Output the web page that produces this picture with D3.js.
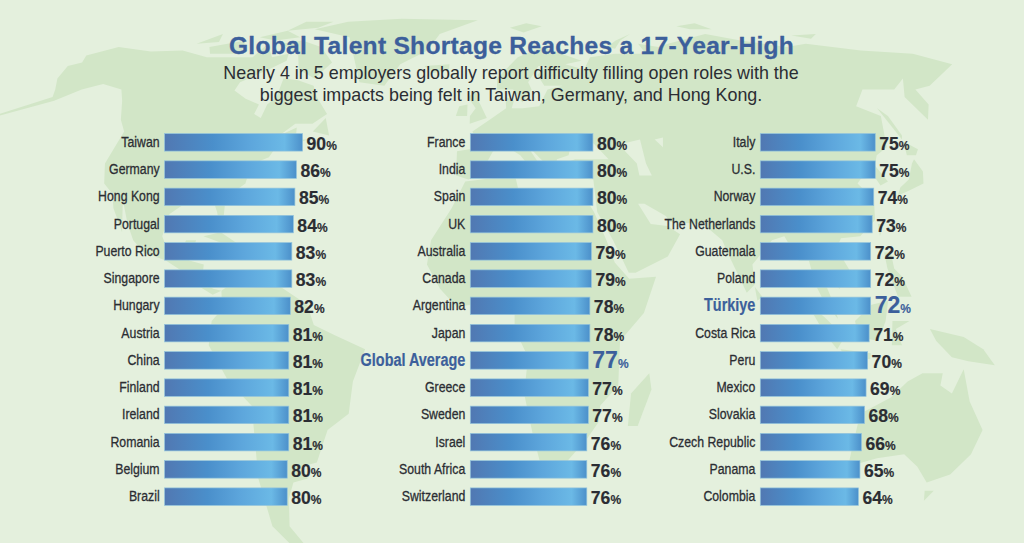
<!DOCTYPE html>
<html>
<head>
<meta charset="utf-8">
<script src="https://cdn.jsdelivr.net/npm/d3@7"></script>
<style>
  html, body { margin: 0; padding: 0; background: #e4f0dd; }
  svg { display: block; }
  .title { font: bold 24.6px "Liberation Sans", sans-serif; fill: #3c5f9b; stroke: #3c5f9b; stroke-width: .3px; letter-spacing: .27px; text-anchor: middle; }
  .sub { font: 17.9px "Liberation Sans", sans-serif; fill: #2b2d33; text-anchor: middle; }
  .tick text { font: 15px "Liberation Sans", sans-serif; fill: #2b2d33; stroke: #2b2d33; stroke-width: .3px; }
  .tick.hl text { font: bold 17.6px "Liberation Sans", sans-serif; fill: #3c5f9b; stroke: #3c5f9b; stroke-width: .2px; }
  .val { font: bold 17.6px "Liberation Sans", sans-serif; fill: #2b2d33; stroke: #2b2d33; stroke-width: .15px; }
  .val tspan { font-size: 12px; }
  .val.hl { font-size: 23px; fill: #3c5f9b; stroke: #3c5f9b; }
  .land { fill: #d2e6c7; }
  .water { fill: #e4f0dd; }
</style>
</head>
<body>
<svg width="1024" height="543"></svg>
<script>
var categories1 = ['Taiwan', 'Germany', 'Hong Kong', 'Portugal', 'Puerto Rico', 'Singapore', 'Hungary', 'Austria', 'China', 'Finland', 'Ireland', 'Romania', 'Belgium', 'Brazil'];
var values1 = [90, 86, 85, 84, 83, 83, 82, 81, 81, 81, 81, 81, 80, 80];

var categories2 = ['France', 'India', 'Spain', 'UK', 'Australia', 'Canada', 'Argentina', 'Japan', 'Global Average', 'Greece', 'Sweden', 'Israel', 'South Africa', 'Switzerland'];
var values2 = [80, 80, 80, 80, 79, 79, 78, 78, 77, 77, 77, 76, 76, 76];

var categories3 = ['Italy', 'U.S.', 'Norway', 'The Netherlands', 'Guatemala', 'Poland', 'Türkiye', 'Costa Rica', 'Peru', 'Mexico', 'Slovakia', 'Czech Republic', 'Panama', 'Colombia'];
var values3 = [75, 75, 74, 73, 72, 72, 72, 71, 70, 69, 68, 66, 65, 64];

var highlighted = ['Global Average', 'Türkiye'];

var titleText = 'Global Talent Shortage Reaches a 17-Year-High';
var subtitleLines = [
  'Nearly 4 in 5 employers globally report difficulty filling open roles with the',
  'biggest impacts being felt in Taiwan, Germany, and Hong Kong.'
];

// rough coastlines for the backdrop, lon/lat
var land = [
  // north america
  [[-168,65.5],[-164,66.5],[-166,68.5],[-157,71],[-141,69.7],[-128,70],[-115,68],[-108,68],[-96,68],[-94,72],[-88,68],[-82,69],[-81,67],[-87,64],[-94,61],[-94,58.7],[-88,56.5],[-82,55],[-82,52.5],[-79,51.5],[-79,55],[-77,57],[-78,62],[-72,61.5],[-65,60],[-62,57],[-56,52.5],[-60,50],[-66,50],[-70,47],[-65,49],[-64,46],[-60,46],[-66,44],[-70,43.5],[-71,41.5],[-74,40.5],[-76,37],[-76,35],[-81,31.5],[-80,26],[-81,25],[-82.5,28],[-84,30],[-89,30],[-94,29.5],[-97,27.5],[-97.5,22],[-95,18.5],[-91,18.5],[-90,21],[-87,21],[-88,16],[-83.5,15],[-83.5,11],[-80,9],[-77.5,8.5],[-80,7.5],[-85,10],[-90,13.5],[-95,16],[-102,18],[-106,21],[-109,25],[-113,31],[-110,23],[-115,29],[-117,32.5],[-121,35],[-124,40],[-124,48],[-128,51],[-133,56],[-137,59],[-146,60.5],[-152,59],[-158,56],[-180,50],[-160,57],[-162,59],[-166,62]],
  // greenland + arctic islands
  [[-78,76.5],[-65,79],[-40,80],[-3,79.5],[-20,75],[-24,70],[-34,66],[-38,60],[-48,61],[-54,68],[-60,74]],
  [[-80,73],[-70,71],[-62,66.5],[-66,62],[-74,64.5],[-78,69],[-88,72]],
  [[-118,71],[-105,73],[-102,69],[-115,69]],
  [[-90,76],[-85,79],[-72,79],[-77,77]],
  [[-125,72],[-118,75],[-116,72.5]],
  [[-100,74],[-90,76],[-82,74],[-92,73]],
  [[-59,48],[-53,47],[-56,51.5]],
  // caribbean
  [[-85,22],[-80,23],[-74,20],[-78,20]],
  [[-74,19.5],[-69,19.5],[-68.5,18.5],[-74,18]],
  // south america
  [[-77.5,8.5],[-72,12],[-62,10.5],[-52,5],[-50,0],[-44,-2.5],[-35,-6],[-39,-14],[-41,-22],[-48,-26],[-53,-34],[-58,-35],[-57,-38],[-62,-39],[-65,-43],[-68,-50],[-65,-55],[-70,-55],[-74,-50],[-73,-38],[-70,-20],[-76,-14],[-81,-5],[-80,1],[-77,4]],
  // africa, madagascar
  [[-6,35.5],[10,37],[11,33],[20,31],[25,32],[32,31],[34,28],[37,21],[39,15.5],[43,11.5],[51,12],[47,3],[40,-4],[40,-15],[35,-20],[35,-24],[32,-28],[26,-34],[18,-34.5],[15,-27],[12,-17],[13,-8],[9,-1],[9,4],[4,6],[-4,5],[-8,4.5],[-13,9],[-17,15],[-16,21],[-10,29]],
  [[49,-12],[50,-16],[47,-25],[44,-25],[44,-17]],
  // eurasia
  [[-9,37],[-9,43],[-1,44],[-4,48],[2,51],[8,54],[8,57],[11,56],[10,54],[14,54],[20,54.5],[24,59],[30,60],[23,60],[21,63],[25,65.5],[22,65.5],[17,61],[18,59],[14,55.5],[11,59],[5,59],[5,62],[14,68],[25,71],[40,67],[33,66],[40,64.5],[44,68],[55,69],[68,69],[67,72],[75,71],[80,72],[100,75],[113,73],[130,71],[140,72],[160,70],[180,69],[190,66],[178,62.5],[170,60],[163,59],[162,55],[156.5,51],[156,57],[163,62],[155,59],[143,59],[135,54.5],[141,52],[135,44],[130,42],[127.5,39.5],[129,35.5],[126,34.5],[125,39],[121,39],[118,39],[122,37],[119,35],[122,31],[120,26],[114,22],[108,21.5],[106,19],[109,13],[105,9],[100,13],[103,5],[104,1.5],[100,6],[98,10],[97,16],[94,16],[91,22],[87,21],[80,15],[80,10],[77.5,8],[73,18],[72,21],[67,25],[57,25.5],[56,27],[50,30],[48,30],[51,25],[56,24.5],[59.5,22.5],[55,17],[45,13],[43,13],[39,21],[35,28],[35,36],[28,36.5],[26,40],[30,41],[41,41],[37,45],[33,45.5],[30,46],[28,42],[24,41],[23,38],[20,40],[14,45],[18,40],[16,38],[12,42],[8,44],[3,43],[0,39],[-2,37],[-5,36]],
  // islands
  [[-5,50],[1,51.5],[-2,56],[-3,58.5],[-6,57],[-3,54],[-5,52]],
  [[-10,52],[-6,52],[-6,55],[-9,54.5]],
  [[-24,65.5],[-14,66],[-14,64.5],[-20,63.5]],
  [[12,77],[20,78.5],[27,77.5],[18,75.5]],
  [[53,71],[58,73],[66,75],[60,73],[56,70.5]],
  [[90,77.5],[100,78.5],[105,76.5],[95,76.5]],
  [[138,74.5],[150,75],[145,73.5]],
  [[130,32],[132,34],[136,36],[140,40],[141.5,41],[142,38],[140,35],[135,33.5]],
  [[140,42],[142,45.5],[145,43.5],[143,42]],
  [[142,46],[142,54],[143.5,52],[143,47]],
  [[120,22],[122,25],[120.5,25]],
  [[80,9.5],[82,7],[80.5,6]],
  [[95,5.5],[100,2],[106,-3],[104,-6],[100,-2]],
  [[105,-6],[114,-7],[114,-8.5],[106,-7.5]],
  [[109,1],[114,5],[119,6],[118,1],[116,-4],[110,-3]],
  [[120,1],[125,1],[121,-1],[123,-5],[120,-5]],
  [[120,18],[122,18],[122,14],[124,12],[126,7],[122,7],[120,14]],
  [[131,-1],[141,-3],[147,-6],[151,-10],[143,-9],[138,-8],[133,-4]],
  [[114,-22],[122,-18],[126,-14],[130,-12],[136,-12],[136,-15],[140,-17],[142,-11],[146,-19],[153,-26],[153,-32],[150,-37],[144,-39],[138,-35],[132,-32],[124,-33],[116,-35],[115,-31]],
  [[145,-41],[148,-41],[147,-43.5]]
];
var water = [
  [[47,45],[53,46],[53,40],[54,37],[50,37],[50,40],[47,43]],
  [[58,46],[61,46.5],[60,44]]
];

var svg = d3.select('svg');

// bar gradient
var grad = svg.append('defs').append('linearGradient').attr('id', 'barFill');
grad.append('stop').attr('offset', '0%').attr('stop-color', '#5178b2');
grad.append('stop').attr('offset', '35%').attr('stop-color', '#4a8fcb');
grad.append('stop').attr('offset', '62%').attr('stop-color', '#5da6dc');
grad.append('stop').attr('offset', '87%').attr('stop-color', '#6bb9e6');
grad.append('stop').attr('offset', '100%').attr('stop-color', '#4c90ca');

// background map, narrowed a bit towards the poles like the original
var rad = Math.PI / 180;
var mapX = d3.scaleLinear().domain([0, 1]).range([484, 708]);
var mapY = d3.scaleLinear().domain([0, 1]).range([325, 96]);
var ring = d3.line()
  .x(function(d) {
    var squeeze = 1 - 0.07 * Math.pow(d[1] / 65, 2);
    return mapX(d3.geoNaturalEarth1Raw(d[0] * rad, d[1] * rad)[0] * squeeze);
  })
  .y(function(d) { return mapY(d3.geoNaturalEarth1Raw(d[0] * rad, d[1] * rad)[1]); })
  .curve(d3.curveLinearClosed);

svg.append('g').selectAll('path').data(land).enter().append('path')
  .attr('class', 'land').attr('d', ring);
svg.append('g').selectAll('path').data(water).enter().append('path')
  .attr('class', 'water').attr('d', ring);

// heading
svg.append('text').attr('class', 'title').attr('x', 511.5).attr('y', 53.5).text(titleText);
svg.selectAll('.sub').data(subtitleLines).enter().append('text')
  .attr('class', 'sub').attr('x', 511).attr('y', function(d, i) { return 79 + i * 22; })
  .text(function(d) { return d; });

var labelSqueeze = 0.82; // the original labels are set in a condensed face

var drawColumn = function(cats, vals, left) {
  var x = d3.scaleLinear().domain([0, 100]).range([left, left + 153.3]);
  var y = d3.scaleBand().domain(cats).range([133.6, 505.4]).paddingInner(0.358);

  var col = svg.append('g');

  var axis = col.append('g')
    .attr('transform', 'translate(' + left + ',0)')
    .call(d3.axisLeft(y).tickSize(0).tickPadding(5));
  axis.select('.domain').remove();
  axis.selectAll('.tick').classed('hl', function(d) { return highlighted.indexOf(d) >= 0; });
  axis.selectAll('.tick text')
    .attr('x', -5 / labelSqueeze)
    .attr('dy', '0.3em')
    .attr('transform', 'scale(' + labelSqueeze + ',1)');

  col.selectAll('rect').data(cats).enter().append('rect')
    .attr('x', x(0))
    .attr('y', function(d) { return y(d); })
    .attr('width', function(d, i) { return x(vals[i]) - x(0); })
    .attr('height', y.bandwidth())
    .attr('fill', 'url(#barFill)')
    .attr('stroke', '#93c4dc')
    .attr('stroke-width', 0.7);

  var labels = col.selectAll('text.val').data(cats).enter().append('text')
    .attr('class', function(d) { return highlighted.indexOf(d) >= 0 ? 'val hl' : 'val'; })
    .attr('x', function(d, i) { return x(vals[i]) + 4; })
    .attr('y', function(d) { return y(d) + y.bandwidth() / 2 + 7.5; })
    .text(function(d, i) { return vals[i]; });
  labels.append('tspan').text('%');
};

drawColumn(categories1, values1, 164.6);
drawColumn(categories2, values2, 470.3);
drawColumn(categories3, values3, 760.3);
</script>
</body>
</html>
